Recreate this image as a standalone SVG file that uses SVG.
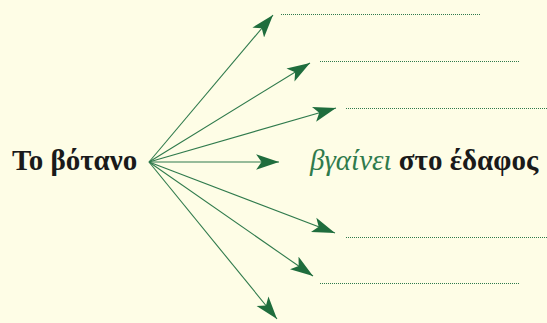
<svg xmlns="http://www.w3.org/2000/svg" width="547" height="323" viewBox="0 0 547 323">
<style>
.bg{fill:#fefde6}
.ln{stroke:#2f7a4c;stroke-width:1.1;fill:none}
.dot{stroke:#2f7a4c;stroke-width:1;stroke-dasharray:1 1;fill:none}
.t{font-family:"Liberation Serif","Times New Roman",serif;font-size:29px}
</style>
<defs>
<marker id="ah" markerUnits="userSpaceOnUse" markerWidth="24" markerHeight="16" refX="21" refY="7" orient="auto" viewBox="0 0 22 14">
<path d="M0,0 L21,7 L0,14 L5,7 Z" fill="#1f6d3d"/>
</marker>
</defs>
<rect class="bg" x="0" y="0" width="547" height="323"/>
<g id="source"><text class="t" x="12" y="170" font-weight="bold" fill="#1a1a1a">Το βότανο</text></g>
<g id="target"><text class="t" x="310" y="170"><tspan font-style="italic" fill="#2f7a4c">βγαίνει</tspan><tspan font-weight="bold" fill="#1a1a1a"> στο έδαφος</tspan></text></g>
<g id="blanks">
<line class="dot" x1="281" y1="14.5" x2="481" y2="14.5"/>
<line class="dot" x1="320" y1="61.5" x2="520" y2="61.5"/>
<line class="dot" x1="346" y1="108.5" x2="547" y2="108.5"/>
<line class="dot" x1="346" y1="237.5" x2="547" y2="237.5"/>
<line class="dot" x1="320" y1="283.5" x2="520" y2="283.5"/>
</g>
<g id="connectors">
<line class="ln" x1="149" y1="162" x2="273" y2="15" marker-end="url(#ah)"/>
<line class="ln" x1="149" y1="162" x2="310" y2="63" marker-end="url(#ah)"/>
<line class="ln" x1="149" y1="162" x2="336" y2="108" marker-end="url(#ah)"/>
<line class="ln" x1="149" y1="162" x2="279" y2="162" marker-end="url(#ah)"/>
<line class="ln" x1="149" y1="162" x2="335" y2="233" marker-end="url(#ah)"/>
<line class="ln" x1="149" y1="162" x2="313" y2="276" marker-end="url(#ah)"/>
<line class="ln" x1="149" y1="162" x2="277" y2="319" marker-end="url(#ah)"/>
</g>
</svg>
